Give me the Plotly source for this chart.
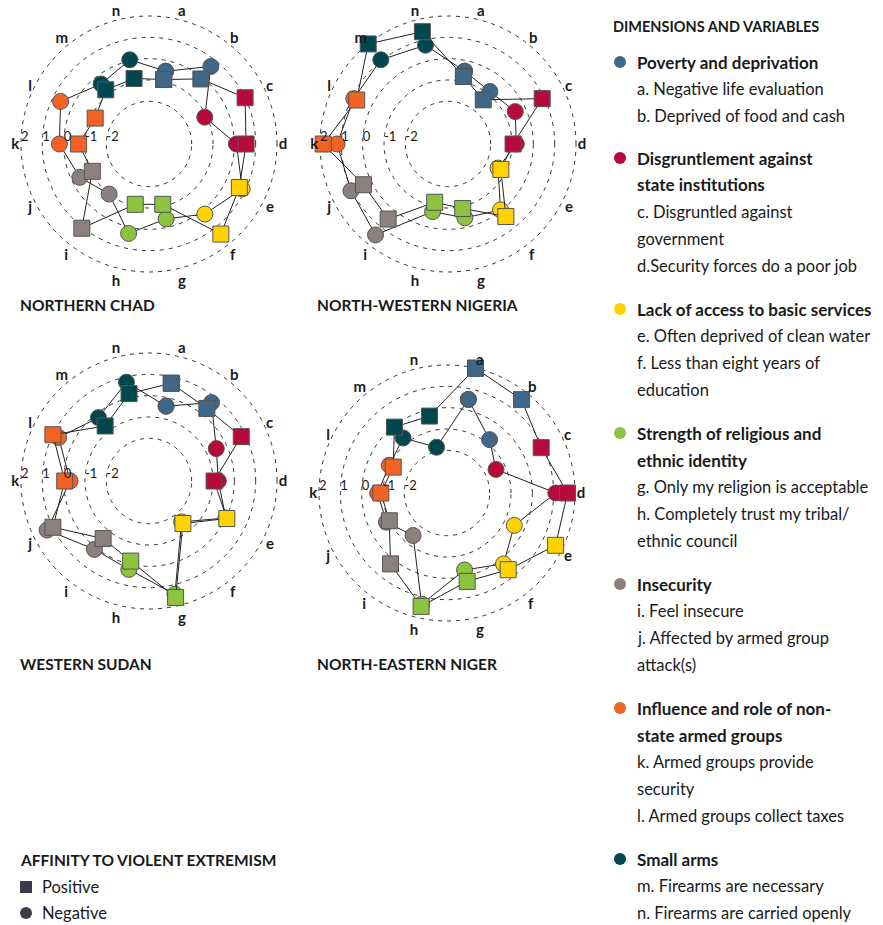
import plotly.graph_objects as go

OFF = 8  # the page body adds an 8px margin
W, H = 883 - OFF, 925 - OFF

# variables a..n (clockwise from top)
variables = list('abcdefghijklmn')

# colours per dimension
c_poverty = '#3e6788'
c_disgr = '#b8093c'
c_services = '#ffd200'
c_religion = '#8cc43f'
c_insecurity = '#8b807d'
c_armed = '#f26224'
c_arms = '#00474f'
point_colors = [c_poverty, c_poverty, c_disgr, c_disgr, c_services, c_services,
                c_religion, c_religion, c_insecurity, c_insecurity,
                c_armed, c_armed, c_arms, c_arms]

# values (positive = squares, negative = circles)
chad_pos = [-0.9, -0.1, 1.0, 0.55, 0.7, 1.4, -1.1, -1.1, 1.05, -1.05, -0.7, -1.2, -0.75, -0.85]
chad_neg = [-0.5, 0.65, -1.1, 0.1, 0.85, 0.2, -0.4, 0.3, -1.0, -0.4, 0.2, 0.6, -0.4, 0.05]
nigeria_pos = [-0.75, -1.35, 0.9, -0.95, -1.25, 0.35, -0.9, -1.2, 0.5, 0.4, 1.85, 0.75, 2.0, 1.4]
nigeria_neg = [-0.5, -0.85, -0.5, -0.8, -1.4, -0.05, -0.45, -0.75, 1.45, 1.05, 1.2, 0.9, 1.05, 0.75]
sudan_pos = [0.7, 0.35, 0.8, -0.95, 0.05, -1.45, 1.6, -0.15, -0.55, 1.0, -0.05, 1.0, -0.7, 0.2]
sudan_neg = [-0.4, 0.7, -0.5, -0.75, 0.0, -1.55, 1.45, 0.25, 0.1, 1.3, -0.3, 0.7, -0.2, 0.75]
niger_pos = [2.0, 1.6, 0.9, 1.65, 1.65, 0.6, 0.25, 1.45, 0.25, -1.0, -0.9, -1.2, -0.05, -0.3]
niger_neg = [0.5, -0.8, -1.45, 1.1, -0.5, 0.25, -0.3, 1.35, -1.45, -0.85, -0.75, -1.0, -0.7, -1.8]

regions = ['NORTHERN CHAD', 'NORTH-WESTERN NIGERIA', 'WESTERN SUDAN', 'NORTH-EASTERN NIGER']
region_data = [(chad_pos, chad_neg), (nigeria_pos, nigeria_neg),
               (sudan_pos, sudan_neg), (niger_pos, niger_neg)]

radial_ticks = [2, 1, 0, -1, -2]
radial_ticktext = ['2', '1', '0', '-1', '-2']

dim_titles = [
    (c_poverty, ['Poverty and deprivation'], ['a. Negative life evaluation', 'b. Deprived of food and cash']),
    (c_disgr, ['Disgruntlement against', 'state institutions'],
     ['c. Disgruntled against', 'government', 'd.Security forces do a poor job']),
    (c_services, ['Lack of access to basic services'],
     ['e. Often deprived of clean water', 'f. Less than eight years of', 'education']),
    (c_religion, ['Strength of religious and', 'ethnic identity'],
     ['g. Only my religion is acceptable', 'h. Completely trust my tribal/', 'ethnic council']),
    (c_insecurity, ['Insecurity'], ['i. Feel insecure', 'j. Affected by armed group', 'attack(s)']),
    (c_armed, ['Influence and role of non-', 'state armed groups'],
     ['k. Armed groups provide', 'security', 'l. Armed groups collect taxes']),
    (c_arms, ['Small arms'], ['m. Firearms are necessary', 'n. Firearms are carried openly']),
]

FONT = 'Lato'
TXT = '#1a1a1a'

# chart centres in page pixels; value 2 sits 128px from the centre
centres = [(149, 144), (448, 144), (149, 481), (447, 493)]
R_MAX = 2.06
R = 128 * (R_MAX + 4) / 6


def px_x(x):
    return (x - OFF) / W


def px_y(y):
    return 1 - (y - OFF) / H


def label(x, y, text, size, bold=False):
    return dict(x=px_x(x - 2), y=px_y(y), xref='paper', yref='paper',
                text='<b>%s</b>' % text if bold else text,
                xanchor='left', yanchor='middle', showarrow=False,
                font=dict(family=FONT, size=size, color=TXT))


fig = go.Figure()

for i, (pos, neg) in enumerate(region_data):
    sub = 'polar' if i == 0 else 'polar%d' % (i + 1)
    for vals, symbol in [(neg, 'circle'), (pos, 'square')]:
        fig.add_trace(go.Scatterpolar(
            r=vals + vals[:1],
            theta=variables + variables[:1],
            mode='lines+markers',
            subplot=sub,
            cliponaxis=False,
            line=dict(color='#222222', width=1),
            marker=dict(symbol=symbol, size=16, color=point_colors + point_colors[:1],
                        line=dict(color='#555555', width=1)),
            showlegend=False,
            hoverinfo='skip',
        ))
    # scale labels along the k spoke
    fig.add_trace(go.Scatterpolar(
        r=radial_ticks, theta=['k'] * len(radial_ticks), mode='text',
        text=radial_ticktext, textposition='top right', subplot=sub, cliponaxis=False,
        textfont=dict(family=FONT, size=13, color=TXT),
        showlegend=False, hoverinfo='skip',
    ))
    cx, cy = centres[i]
    fig.update_layout(**{sub: dict(
        domain=dict(x=[px_x(cx - R), px_x(cx + R)], y=[px_y(cy + R), px_y(cy - R)]),
        bgcolor='rgba(0,0,0,0)',
        radialaxis=dict(range=[-4, R_MAX], tickvals=radial_ticks, showticklabels=False,
                        angle=180, showline=False, ticks='',
                        showgrid=True, gridcolor='#333333', gridwidth=1, griddash='4px,5px'),
        angularaxis=dict(type='category', categoryarray=variables, rotation=77.142857,
                         direction='clockwise', showline=False, showgrid=False, ticks='',
                         tickfont=dict(family=FONT, size=15, color=TXT, weight='bold')),
    )})

annotations = []
title_pos = [(20, 305), (317, 305), (20, 664), (317, 664)]
for name, (tx, ty) in zip(regions, title_pos):
    annotations.append(label(tx, ty, name, 15.5, bold=True))

# right-hand legend
annotations.append(label(613, 27, 'DIMENSIONS AND VARIABLES', 14.5, bold=True))
shapes = []
block_tops = [62, 158, 309, 433, 584, 708, 859]
for (col, heads, items), top in zip(dim_titles, block_tops):
    shapes.append(dict(type='circle', xref='paper', yref='paper', fillcolor=col, line=dict(width=0),
                       x0=px_x(614), x1=px_x(626), y0=px_y(top + 6), y1=px_y(top - 6)))
    y = top
    for h in heads:
        annotations.append(label(637, y, h, 17, bold=True))
        y += 27
    for it in items:
        annotations.append(label(637, y, it, 16.5))
        y += 27

# affinity legend
annotations.append(label(20, 860, 'AFFINITY TO VIOLENT EXTREMISM', 15.5, bold=True))
annotations.append(label(42, 887, 'Positive', 16.5))
annotations.append(label(42, 913, 'Negative', 16.5))
shapes.append(dict(type='rect', xref='paper', yref='paper', fillcolor='#3a3a48', line=dict(width=0),
                   x0=px_x(20), x1=px_x(32), y0=px_y(893), y1=px_y(881)))
shapes.append(dict(type='circle', xref='paper', yref='paper', fillcolor='#3a3a48', line=dict(width=0),
                   x0=px_x(20), x1=px_x(32), y0=px_y(919), y1=px_y(907)))

fig.update_layout(width=W, height=H, margin=dict(l=0, r=0, t=0, b=0),
                  paper_bgcolor='white', plot_bgcolor='white',
                  annotations=annotations, shapes=shapes, showlegend=False)

fig.write_html('out.html')
